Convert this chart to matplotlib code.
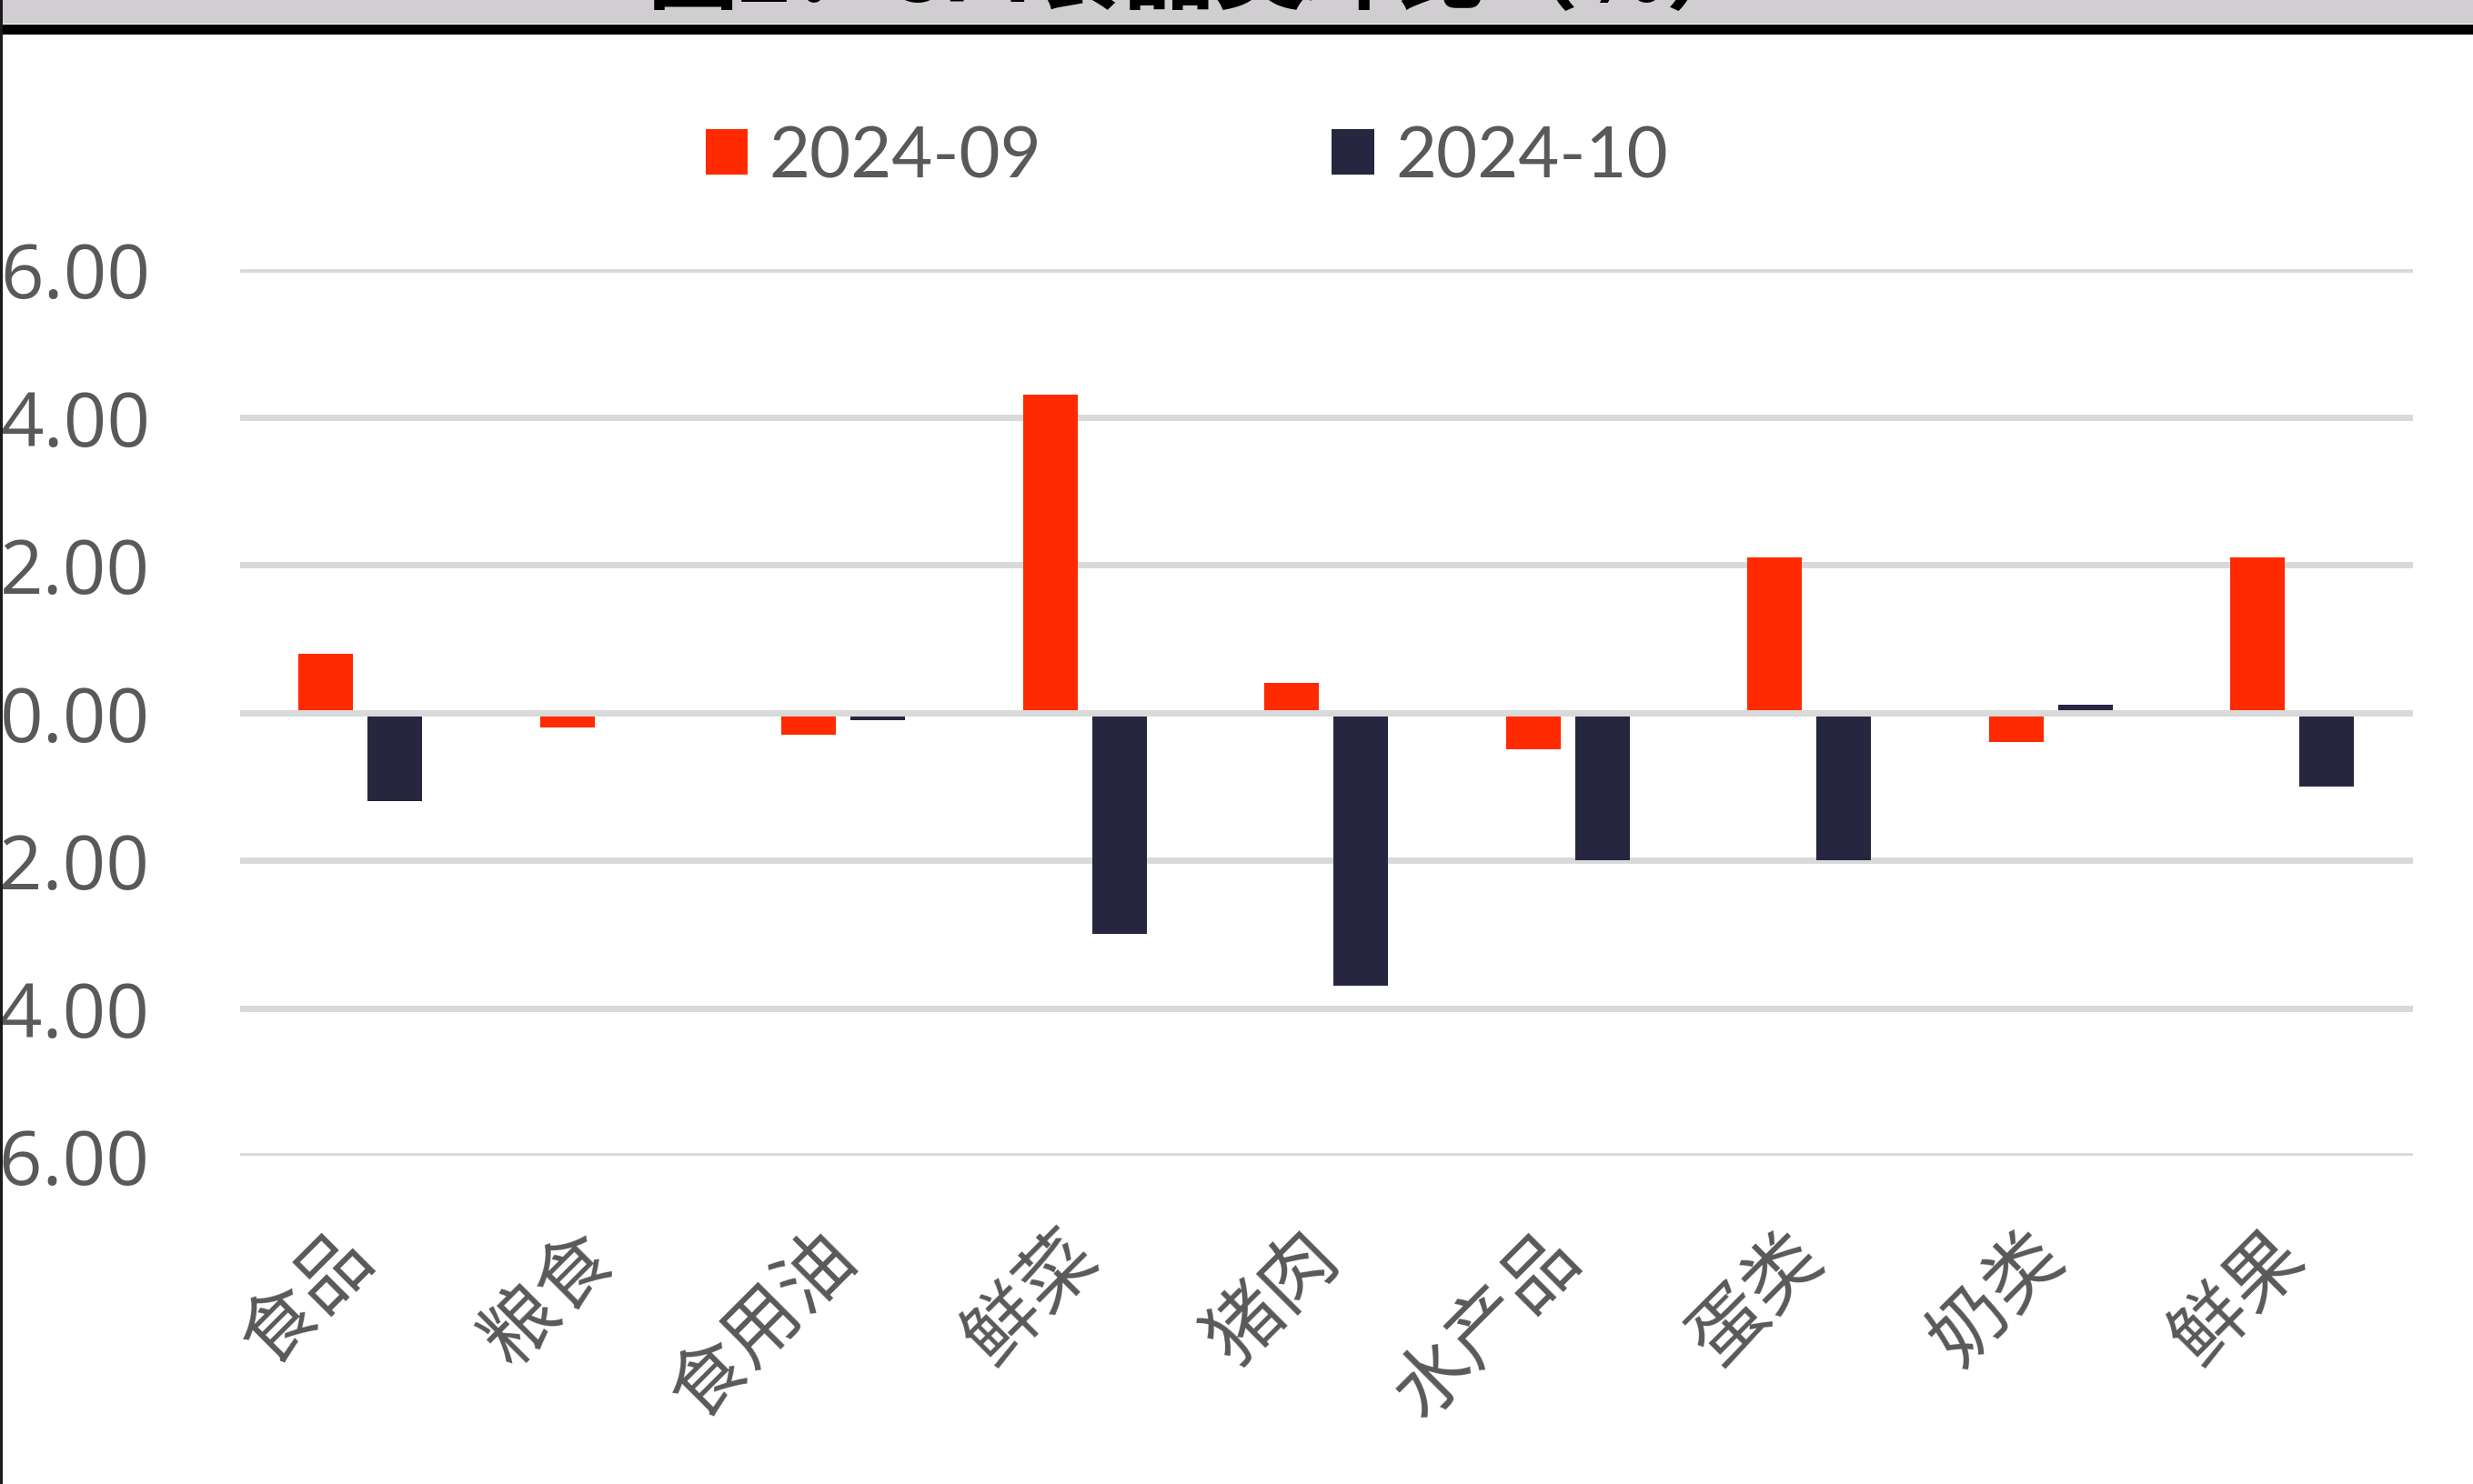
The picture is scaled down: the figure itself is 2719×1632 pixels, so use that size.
import matplotlib.pyplot as plt
import numpy as np
from matplotlib.patches import Rectangle

plt.rcParams["font.family"] = ["Noto Sans CJK SC", "DejaVu Sans"]

# CPI food sub-items, month-on-month change (%)
categories = ["食品", "粮食", "食用油", "鲜菜", "猪肉", "水产品", "蛋类", "奶类", "鲜果"]
series_names = ["2024-09", "2024-10"]
values_sep = [0.8, -0.2, -0.3, 4.3, 0.4, -0.5, 2.1, -0.4, 2.1]
values_oct = [-1.2, 0.0, -0.1, -3.0, -3.7, -2.0, -2.0, 0.1, -1.0]
y_ticks = [-6, -4, -2, 0, 2, 4, 6]

title = "图2：CPI食品类环比（%）"

RED = "#FF2A00"
NAVY = "#262640"
GRID = "#D9D9D9"
TEXT = "#595959"

W, H = 2719, 1633
fig = plt.figure(figsize=(W / 100, H / 100), dpi=100)
fig.patch.set_facecolor("white")

# header strip with the title and a heavy rule beneath it
fig.add_artist(Rectangle((0, 1 - 27 / H), 1, 27 / H, transform=fig.transFigure,
                         facecolor="#D0CED0", edgecolor="none", zorder=0))
fig.add_artist(Rectangle((0, 1 - 39 / H), 1, 11 / H, transform=fig.transFigure,
                         facecolor="black", edgecolor="none", zorder=1))
fig.add_artist(Rectangle((0, 0), 3 / W, 1, transform=fig.transFigure,
                         facecolor="#1a1a1a", edgecolor="none", zorder=1))
fig.text(712 / W, 1 - 2 / H, title, ha="left", va="baseline",
         fontsize=72, fontweight="bold", color="black")

ax = fig.add_axes([263.6 / W, 1 - 1272 / H, (2653 - 263.6) / W, (1272 - 297) / H])

x = np.arange(len(categories))
width = 0.226
offset = 0.143
b1 = ax.bar(x - offset, values_sep, width, color=RED, label=series_names[0], zorder=2)
b2 = ax.bar(x + offset, values_oct, width, color=NAVY, label=series_names[1], zorder=2)

ax.set_xlim(-0.5, len(categories) - 0.5)
ax.set_ylim(-6, 6)
ax.set_yticks(y_ticks)
ax.set_yticklabels([f"{v:.2f}" for v in y_ticks], family="Open Sans")
ax.yaxis.grid(True, color=GRID, linewidth=5, zorder=1)
ax.set_axisbelow(True)
ax.axhline(0, color=GRID, linewidth=5, zorder=3)

ax.set_xticks(x)
ax.set_xticklabels(categories, rotation=45, ha="right", va="center",
                   rotation_mode="anchor")

for side in ax.spines.values():
    side.set_visible(False)

ax.tick_params(axis="y", length=0, pad=71, labelsize=60, labelcolor=TEXT)
ax.tick_params(axis="x", length=0, pad=70, labelsize=60, labelcolor=TEXT)

leg = ax.legend(handles=[b1, b2], loc="center", bbox_to_anchor=(1305 / W, 1 - 174 / H),
                bbox_transform=fig.transFigure, ncol=2, frameon=False,
                prop={"family": "Lato", "size": 56}, handlelength=0.6,
                handleheight=0.62, handletextpad=0.3, columnspacing=4.1,
                borderpad=0)
for t in leg.get_texts():
    t.set_color(TEXT)

fig.savefig("out.png", dpi=100)
